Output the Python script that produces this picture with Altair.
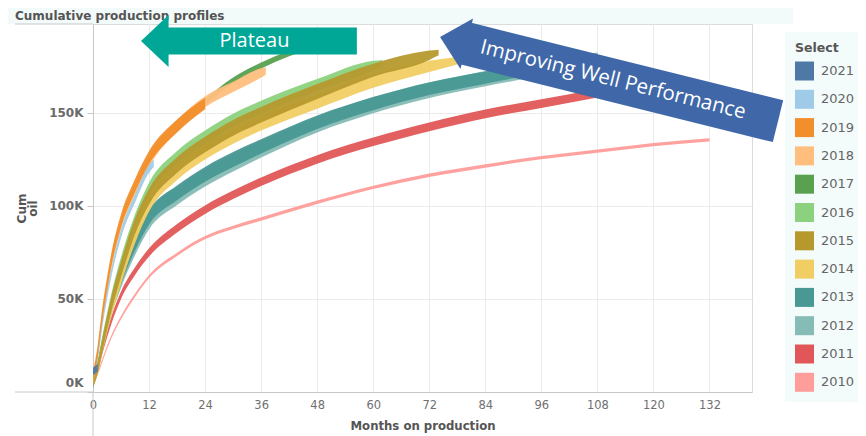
import altair as alt
import pandas as pd

# ---------------- data (cumulative oil, thousand bbl, per vintage envelope) -------------
years = ["2021", "2020", "2019", "2018", "2017", "2016", "2015", "2014", "2013", "2012", "2011", "2010"]
colors = ["#4e79a7", "#a0cbe8", "#f28e2b", "#ffbe7d", "#59a14f", "#8cd17d",
          "#b6992d", "#f1ce63", "#499894", "#86bcb6", "#e15759", "#ff9d9a"]

m_2010 = [0, 1, 2, 3, 4, 6, 9, 12, 18, 24, 30, 36, 48, 60, 72, 84, 96, 108, 120, 132]
lo_2010 = [3.1, 9.1, 16.1, 23.1, 29.1, 39.1, 51.1, 61.1, 73.1, 82.1, 87.6, 92.1, 101.1, 109.1, 115.6, 120.6, 125.1, 128.6, 132.1, 134.6]
hi_2010 = [4.9, 10.9, 17.9, 24.9, 30.9, 40.9, 52.9, 62.9, 74.9, 83.9, 89.4, 93.9, 102.9, 110.9, 117.4, 122.4, 126.9, 130.4, 133.9, 136.4]

m_2011 = [0, 1, 2, 3, 4, 6, 9, 12, 18, 24, 30, 36, 48, 60, 72, 84, 96, 108, 118]
lo_2011 = [2.5, 10.5, 20.4, 29.2, 37.1, 50, 62.9, 72.8, 85.7, 95.7, 103.7, 110.7, 122.7, 132.2, 140.2, 147.2, 152.7, 158.3, 162.7]
hi_2011 = [5.5, 13.5, 23.6, 32.8, 40.9, 54, 67.1, 77.2, 90.3, 100.3, 108.3, 115.3, 127.3, 136.8, 144.8, 151.8, 157.3, 162.7, 166.3]

m_2012 = [0, 1, 2, 3, 4, 6, 9, 12, 18, 24, 30, 36, 48, 60, 72, 84, 96, 108]
lo_2012 = [2, 10, 21.5, 32, 41.5, 56, 73.5, 87.5, 100.5, 110.5, 118.5, 126, 139.5, 149.8, 158, 164.3, 170, 175.2]
hi_2012 = [6, 15.5, 28, 39.3, 49.5, 64.8, 83, 97, 110, 120, 128, 135, 148, 158.5, 166.5, 172.6, 178.2, 182.5]

m_2013 = [0, 1, 2, 3, 4, 6, 9, 12, 18, 24, 30, 36, 48, 60, 72, 84, 96, 108]
lo_2013 = [3, 11.5, 23, 33.7, 43.5, 58.2, 76, 90, 103, 113, 121, 128.2, 141.4, 151.5, 159.6, 165.7, 171.3, 176.2]
hi_2013 = [7, 16.5, 29, 40.3, 50.5, 65.8, 84, 98, 111, 121, 129, 135.8, 148.6, 158.5, 166.4, 172.3, 177.7, 181.8]

m_2014 = [0, 1, 2, 3, 4, 6, 9, 12, 18, 24, 30, 36, 48, 60, 72, 78]
lo_2014 = [3.5, 9.5, 21, 31.5, 41.2, 58, 80, 97, 114, 125, 133.5, 140.5, 152.2, 163.5, 172, 176]
hi_2014 = [8.5, 14.5, 27, 38.5, 48.8, 66, 88, 105, 122, 133, 141.5, 148.5, 159.8, 170.5, 178, 180]

m_2015 = [0, 1, 2, 3, 4, 6, 9, 12, 18, 24, 30, 36, 48, 60, 72, 74]
lo_2015 = [3, 10, 21.5, 33.2, 44, 61.8, 84.8, 100.8, 117.8, 128.8, 137.8, 144.8, 157.5, 169.5, 178.5, 181]
hi_2015 = [9, 16, 28.5, 40.8, 52, 70.2, 93.2, 109.2, 126.2, 137.2, 146.2, 153.2, 165.5, 176.5, 183.5, 184]

m_2016 = [0, 1, 2, 3, 4, 6, 9, 12, 18, 24, 30, 36, 48, 60, 62]
lo_2016 = [5, 11.5, 24, 35.8, 46.5, 65.5, 88.5, 105.5, 122.5, 133.5, 142.5, 149.5, 161.8, 173, 175.5]
hi_2016 = [9, 16.5, 30, 42.2, 53.5, 72.5, 95.5, 112.5, 129.5, 140.5, 149.5, 156.5, 168.2, 178, 178.5]

m_2017 = [0, 1, 2, 3, 4, 6, 9, 12, 18, 24, 30, 36, 42, 46]
lo_2017 = [5.4, 19.4, 39.4, 55.4, 69.4, 89.4, 108.4, 123.4, 142.4, 154.4, 165.9, 173.9, 180.4, 183.9]
hi_2017 = [8.6, 22.6, 42.6, 58.6, 72.6, 92.6, 111.6, 126.6, 145.6, 157.6, 169.1, 177.1, 183.6, 187.1]

m_2018 = [0, 1, 2, 3, 4, 6, 9, 12, 18, 24, 30, 36, 37]
lo_2018 = [4.5, 17.5, 37, 53, 67, 87, 106, 121, 140, 153, 161.2, 169, 170.5]
hi_2018 = [9.5, 22.5, 43, 59, 73, 93, 112, 127, 146, 159, 166.8, 174, 174.5]

m_2019 = [0, 1, 2, 3, 4, 6, 9, 12, 18, 24]
lo_2019 = [5, 19, 38.5, 54.5, 68.5, 88.5, 107.5, 122.5, 139.5, 152]
hi_2019 = [11, 25, 45.5, 61.5, 75.5, 95.5, 114.5, 129.5, 146.5, 158]

m_2020 = [0, 1, 2, 3, 4, 6, 9, 12, 13]
lo_2020 = [5.8, 16.8, 34.8, 49.8, 62.8, 82.8, 101.8, 117.8, 121]
hi_2020 = [10.2, 21.2, 39.2, 54.2, 67.2, 87.2, 106.2, 122.2, 125]

m_2021 = [0, 1]
lo_2021 = [9, 11]
hi_2021 = [13, 15]

x_ticks = [0, 12, 24, 36, 48, 60, 72, 84, 96, 108, 120, 132]
y_ticks = [0, 50, 100, 150]

chart_title = "Cumulative production profiles"
plateau_label = "Plateau"
improving_label = "Improving Well Performance"

# annotation anchors in data units (months, K bbl)
plateau_body = {"x": [16.0], "x2": [56.5], "y": [188.66], "y2": [188.66]}
plateau_head = {"x": [13.23], "y": [188.66]}
plateau_text = {"x": [34.58], "y": [188.66], "t": [plateau_label]}
improving_body = {"x": [79.9], "x2": [146.67], "y": [187.25], "y2": [145.55]}
improving_head = {"x": [77.17], "y": [189.03]}
improving_text = {"x": [111.34], "y": [167.7], "t": [improving_label]}

series = {
    "2010": (m_2010, lo_2010, hi_2010), "2011": (m_2011, lo_2011, hi_2011),
    "2012": (m_2012, lo_2012, hi_2012), "2013": (m_2013, lo_2013, hi_2013),
    "2014": (m_2014, lo_2014, hi_2014), "2015": (m_2015, lo_2015, hi_2015),
    "2016": (m_2016, lo_2016, hi_2016), "2017": (m_2017, lo_2017, hi_2017),
    "2018": (m_2018, lo_2018, hi_2018), "2019": (m_2019, lo_2019, hi_2019),
    "2020": (m_2020, lo_2020, hi_2020), "2021": (m_2021, lo_2021, hi_2021),
}
rows = []
for yr, (ms, los, his) in series.items():
    for m, lo, hi in zip(ms, los, his):
        rows.append({"year": yr, "month": m, "lo": lo, "hi": hi})
df = pd.DataFrame(rows)

draw_order = ["2010", "2011", "2012", "2013", "2016", "2014", "2015",
              "2017", "2018", "2020", "2019", "2021"]

# ---------------- scales / axes ----------------
FONT = "DejaVu Sans"
xs = alt.Scale(domain=[0, 141.1], nice=False, zero=False)
ys = alt.Scale(domain=[0, 197.8], nice=False, zero=False)
x_axis = alt.Axis(values=x_ticks, title="Months on production", grid=True, ticks=False,
                  labelFont=FONT, labelFontSize=11.5, labelColor="#707070", labelPadding=7,
                  titleFont=FONT, titleFontSize=11.7, titleFontWeight="bold", titleColor="#555555",
                  titlePadding=10, domainColor="#c8c8c8", gridColor="#ebebeb", labelFlush=False)
y_axis = alt.Axis(values=y_ticks, labelExpr="datum.value + 'K'", title=["Cum", "oil"],
                  ticks=True, tickSize=6, tickColor="#c8c8c8", grid=True, gridColor="#ebebeb",
                  labelFont=FONT, labelFontSize=12, labelFontWeight="bold", labelColor="#6a6a6a",
                  labelPadding=4, labelFlush=True, labelFlushOffset=-3,
                  titleFont=FONT, titleFontSize=12, titleFontWeight="bold",
                  titleColor="#555555", titlePadding=9, domainColor="#c8c8c8", titleLineHeight=11)
legend = alt.Legend(title="Select", orient="none", legendX=692, legendY=8, symbolType="square",
                    symbolSize=361, symbolStrokeWidth=0, symbolOpacity=1,
                    labelFont=FONT, labelFontSize=13, labelColor="#666666", labelOffset=7,
                    titleFont=FONT, titleFontSize=12.5, titleFontWeight="bold", titleColor="#555555",
                    titlePadding=7, rowPadding=9.3, padding=10, fillColor="#f3fbfb")
color = alt.Color("year:N", scale=alt.Scale(domain=years, range=colors), legend=legend)


def X(field):
    return alt.X(field, type="quantitative", scale=xs, axis=x_axis)


def Y(field):
    return alt.Y(field, type="quantitative", scale=ys, axis=y_axis)


frame = pd.DataFrame({"k": [0]})
layers = []
# light dashboard strip behind the title
layers.append(alt.Chart(frame).mark_rect(color="#f2fafa").encode(
    x=alt.value(-93), x2=alt.value(700), y=alt.value(-24), y2=alt.value(0)))

for yr in draw_order:
    layers.append(
        alt.Chart(df).transform_filter(alt.datum.year == yr)
        .mark_area(interpolate="monotone", opacity=0.95)
        .encode(x=X("month"), y=Y("lo"), y2="hi", color=color)
    )

# decorative frame extensions (Tableau-like pane lines)
layers.append(alt.Chart(frame).mark_rule(color="#c8c8c8").encode(
    x=alt.value(-78), x2=alt.value(0), y=alt.value(0)))
layers.append(alt.Chart(frame).mark_rule(color="#c8c8c8").encode(
    x=alt.value(-78), x2=alt.value(0), y=alt.value(368)))
layers.append(alt.Chart(frame).mark_rule(color="#c8c8c8").encode(
    x=alt.value(0), y=alt.value(368), y2=alt.value(412)))

# title
layers.append(alt.Chart(pd.DataFrame({"t": [chart_title]})).mark_text(
    align="left", baseline="alphabetic", font=FONT, fontSize=12, fontWeight="bold", color="#555555"
).encode(x=alt.value(-78), y=alt.value(-4), text="t:N"))

# arrows
HEAD = "M -0.53 0 L 0.53 -1 L 0.53 1 Z"
TEAL = "#00a797"
BLUE = "#4068a8"
layers.append(alt.Chart(pd.DataFrame(plateau_body)).mark_rule(color=TEAL, strokeWidth=27).encode(
    x=X("x"), x2="x2", y=Y("y"), y2="y2"))
layers.append(alt.Chart(pd.DataFrame(plateau_head)).mark_point(
    shape=HEAD, size=2704, filled=True, color=TEAL, opacity=1, strokeWidth=0).encode(x=X("x"), y=Y("y")))
layers.append(alt.Chart(pd.DataFrame(plateau_text)).mark_text(
    font="Open Sans", fontSize=20, color="white", align="center", baseline="middle").encode(
    x=X("x"), y=Y("y"), text="t:N"))

layers.append(alt.Chart(pd.DataFrame(improving_body)).mark_rule(color=BLUE, strokeWidth=43).encode(
    x=X("x"), x2="x2", y=Y("y"), y2="y2"))
layers.append(alt.Chart(pd.DataFrame(improving_head)).mark_point(
    shape=HEAD, size=2704, filled=True, color=BLUE, opacity=1, strokeWidth=0, angle=14).encode(
    x=X("x"), y=Y("y")))
layers.append(alt.Chart(pd.DataFrame(improving_text)).mark_text(
    font="Open Sans", fontSize=20.5, color="white", align="center", baseline="middle", angle=14).encode(
    x=X("x"), y=Y("y"), text="t:N"))

chart = alt.layer(*layers).properties(
    width=659, height=368,
    autosize=alt.AutoSizeParams(type="none"),
    padding={"left": 85, "top": 16, "right": 106, "bottom": 44},
    background="#ffffff",
).configure_view(stroke="#dcdcdc", fill="#ffffff")

chart.save("out.html", embed_options={"renderer": "svg", "actions": False})
